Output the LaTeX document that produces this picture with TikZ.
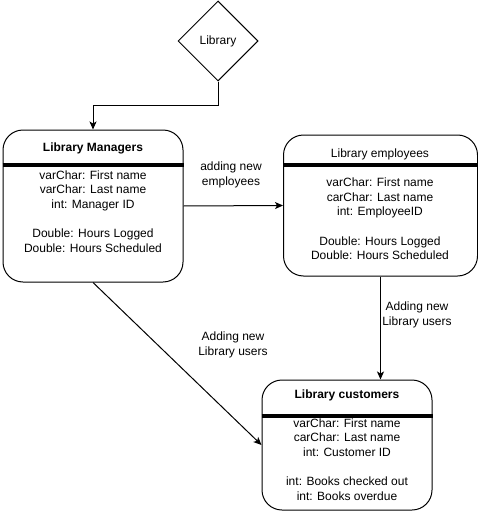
\documentclass[tikz,border=0pt]{standalone}
\usepackage{fontspec}
\setmainfont{Liberation Sans}
\usetikzlibrary{shapes.geometric,arrows.meta}

\begin{document}
\begin{tikzpicture}[x=1pt,y=-1pt,font=\fontsize{12}{14.6}\selectfont,
    box/.style={draw,line width=1pt,rounded corners=20pt,inner sep=0pt},
    sepline/.style={line width=3.5pt},
    >={Stealth[length=8pt,width=7pt,inset=2pt]}]
    \useasboundingbox (0,0) rectangle (478,511);
    % entities
    \node [draw,line width=1pt,diamond,minimum width=80,minimum height=80,inner sep=0pt] (lib) at (218,41) {Library};
    \node [box,minimum width=180,minimum height=152] (mgr)  at (93,206)    {};
    \node [box,minimum width=194,minimum height=141] (emp)  at (380.5,205.5) {};
    \node [box,minimum width=170,minimum height=130] (cust) at (347,445)   {};
    \foreach \b/\y in {mgr/165,emp/165,cust/416}{
        \draw [sepline] (\b.west |- 0,\y) -- (\b.east |- 0,\y);
    }
    \node [font=\fontsize{12}{14.6}\selectfont\bfseries] (mgrtitle)  at (93,148)  {Library Managers};
    \node (emptitle) at (380,154) {Library employees};
    \node [font=\fontsize{12}{14.6}\selectfont\bfseries] (custtitle) at (347,395) {Library customers};
    \node [align=center] (mgrfields) at (93,211.5)
        {varChar: First name\\varChar: Last name\\int: Manager ID\\[14.6pt]Double: Hours Logged\\Double: Hours Scheduled};
    \node [align=center] (empfields) at (380,219)
        {varChar: First name\\carChar: Last name\\int: EmployeeID\\[14.6pt]Double: Hours Logged\\Double: Hours Scheduled};
    \node [align=center] (custfields) at (347,459.5)
        {varChar: First name\\carChar: Last name\\int: Customer ID\\[14.6pt]int: Books checked out\\int: Books overdue};
    % links
    \begin{scope}[line width=1pt]
    \coordinate (bend) at (218,105);
    \draw [->] (lib.south) -- (bend) -| (mgr.north);
    \draw [->] (mgr.east) -- (emp.west);
    \draw [->] (emp.south) -- (emp.south |- cust.north);
    \draw [->] (mgr.south) -- (cust.west);
    \end{scope}
    \node [align=center] (hirelabel) at (231,175) {adding new\\employees};
    \node [align=center] (userlabel) at (417,315) {Adding new\\Library users};
    \node [align=center] (userlabel2) at (233,345) {Adding new\\Library users};
\end{tikzpicture}
\end{document}
